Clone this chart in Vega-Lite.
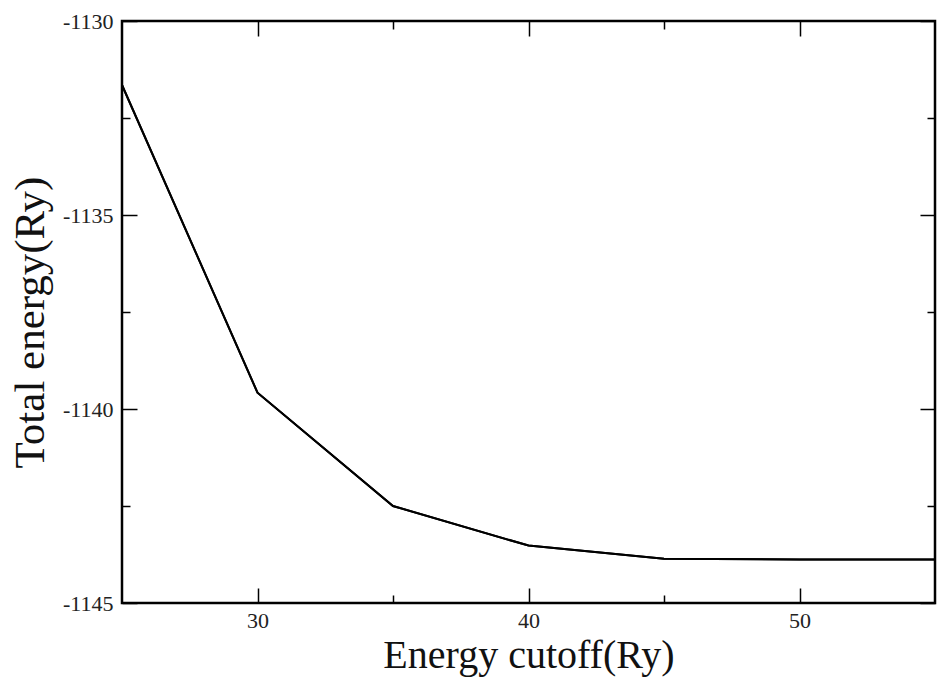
{
  "$schema": "https://vega.github.io/schema/vega-lite/v6.json",
  "width": 813,
  "height": 582,
  "autosize": "none",
  "padding": {"left": 122, "top": 21, "right": 3, "bottom": 76},
  "background": "white",
  "config": {
    "view": {"stroke": "black", "strokeWidth": 2.5},
    "axis": {
      "domain": false,
      "grid": false,
      "tickColor": "black",
      "tickWidth": 1.5,
      "titleFont": "Liberation Serif",
      "titleFontWeight": "normal",
      "titleColor": "#111111"
    }
  },
  "data": {
    "values": [
      {"cutoff": 25, "energy": -1131.65},
      {"cutoff": 30, "energy": -1139.58},
      {"cutoff": 35, "energy": -1142.5},
      {"cutoff": 40, "energy": -1143.52},
      {"cutoff": 45, "energy": -1143.86},
      {"cutoff": 50, "energy": -1143.88},
      {"cutoff": 55, "energy": -1143.88}
    ]
  },
  "layer": [
    {
      "mark": {"type": "line", "color": "black", "strokeWidth": 2},
      "encoding": {
        "x": {
          "field": "cutoff", "type": "quantitative",
          "scale": {"domain": [25, 55], "nice": false, "zero": false},
          "axis": {
            "orient": "bottom",
            "title": "Energy cutoff(Ry)",
            "titleFontSize": 40,
            "titleBaseline": "alphabetic",
            "titleY": 64,
            "values": [30, 35, 40, 45, 50],
            "labelExpr": "datum.value % 10 === 0 ? toString(datum.value) : ''",
            "labelFont": "Liberation Serif",
            "labelFontSize": 22,
            "labelColor": "#222222",
            "tickSize": {"condition": {"test": "datum.value % 10 === 0", "value": -15}, "value": -8},
            "labelPadding": 22
          }
        },
        "y": {
          "field": "energy", "type": "quantitative",
          "scale": {"domain": [-1145, -1130], "nice": false, "zero": false},
          "axis": {
            "orient": "left",
            "title": "Total energy(Ry)",
            "titleFontSize": 43,
            "titleAngle": -90,
            "titleAlign": "center",
            "titleBaseline": "alphabetic",
            "titleX": -79,
            "titleY": 301,
            "values": [-1145, -1142.5, -1140, -1137.5, -1135, -1132.5, -1130],
            "labelExpr": "datum.value % 5 === 0 ? toString(datum.value) : ''",
            "labelFont": "Liberation Serif",
            "labelFontSize": 22,
            "labelColor": "#222222",
            "tickSize": {"condition": {"test": "datum.value % 5 === 0", "value": -15}, "value": -8},
            "labelPadding": 24
          }
        }
      }
    },
    {
      "mark": {"type": "line", "color": "black", "strokeWidth": 2},
      "encoding": {
        "x": {
          "field": "cutoff", "type": "quantitative",
          "axis": {
            "orient": "top",
            "title": null,
            "labels": false,
            "values": [30, 35, 40, 45, 50],
            "tickSize": {"condition": {"test": "datum.value % 10 === 0", "value": -15}, "value": -8}
          }
        },
        "y": {
          "field": "energy", "type": "quantitative",
          "axis": {
            "orient": "right",
            "title": null,
            "labels": false,
            "values": [-1145, -1142.5, -1140, -1137.5, -1135, -1132.5, -1130],
            "tickSize": {"condition": {"test": "datum.value % 5 === 0", "value": -15}, "value": -8}
          }
        }
      }
    }
  ],
  "resolve": {"axis": {"x": "independent", "y": "independent"}}
}
